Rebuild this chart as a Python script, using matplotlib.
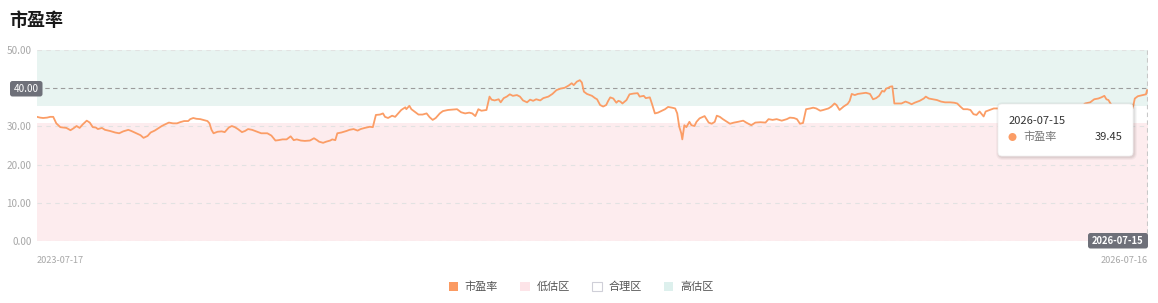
import matplotlib
matplotlib.use('Agg')
import matplotlib.pyplot as plt
import pandas as pd
from matplotlib.patches import FancyBboxPatch, Patch, Circle
from matplotlib.transforms import IdentityTransform

plt.rcParams['font.family'] = ['Noto Sans CJK SC', 'DejaVu Sans']

# ---------------- data ----------------
title = '市盈率'
start_date = '2023-07-17'
end_date = '2026-07-16'
day_offsets = [
    0, 3, 6, 10, 13, 16, 19, 23, 26, 29, 33, 36, 39, 42, 45, 49, 52, 55, 58, 60,
    64, 67, 72, 77, 81, 85, 90, 93, 98, 102, 105, 109, 112, 116, 120, 123, 126, 130, 134, 138,
    141, 145, 149, 151, 154, 157, 161, 165, 168, 170, 172, 174, 178, 182, 185, 189, 192, 195, 198, 202,
    205, 208, 212, 217, 221, 227, 231, 235, 238, 242, 246, 250, 253, 256, 260, 264, 269, 273, 276, 278,
    282, 285, 289, 291, 294, 296, 300, 305, 308, 312, 316, 319, 323, 328, 331, 334, 338, 341, 343, 346,
    350, 353, 356, 359, 363, 364, 367, 369, 373, 376, 380, 384, 387, 390, 393, 397, 400, 405, 410, 414,
    418, 422, 426, 429, 432, 435, 438, 443, 446, 448, 451, 455, 457, 460, 463, 466, 469, 473, 476, 479,
    483, 486, 489, 492, 496, 499, 504, 508, 512, 516, 520, 524, 527, 529, 532, 535, 537, 539, 542, 547,
    550, 552, 555, 558, 561, 563, 565, 568, 571, 573, 575, 577, 581, 584, 588, 592, 594, 598, 600, 604,
    606, 609, 612, 616, 619, 622, 626, 629, 631, 633, 635, 636, 638, 640, 643, 645, 648, 650, 653, 658,
    662, 665, 668, 670, 673, 676, 680, 683, 687, 691, 696, 699, 704, 708, 713, 718, 721, 725, 729, 734,
    739, 742, 746, 749, 752, 755, 758, 762, 765, 768, 772, 775, 780, 783, 786, 788, 791, 795, 799, 801,
    803, 806, 809, 814, 817, 821, 824, 827, 830, 833, 835, 837, 839, 841, 843, 845, 849, 852, 856, 859,
    862, 865, 870, 874, 876, 879, 883, 887, 891, 895, 900, 904, 907, 910, 913, 917, 920, 923, 926, 929,
    933, 935, 939, 943, 947, 955, 965, 975, 985, 995, 1005, 1015, 1025, 1030, 1033, 1038, 1042, 1046, 1049, 1052,
    1054, 1056, 1058, 1062, 1066, 1070, 1075, 1080, 1082, 1085, 1090, 1093, 1094,
]
pe_values = [
    32.5, 32.3, 32.2, 32.3, 32.5, 32.5, 30.8, 29.8, 29.7, 29.6, 29.0, 29.5, 30.1, 29.6, 30.5, 31.5, 31.0, 29.8, 29.7, 29.3,
    29.6, 29.1, 28.8, 28.4, 28.2, 28.7, 29.1, 28.8, 28.2, 27.7, 27.0, 27.5, 28.4, 28.9, 29.6, 30.1, 30.5, 31.0, 30.8, 30.8,
    31.1, 31.4, 31.4, 31.9, 32.2, 32.0, 31.9, 31.6, 31.4, 30.8, 29.1, 28.2, 28.6, 28.7, 28.5, 29.7, 30.1, 29.8, 29.3, 28.5,
    28.8, 29.3, 29.1, 28.6, 28.2, 28.2, 27.6, 26.3, 26.4, 26.6, 26.6, 27.4, 26.4, 26.6, 26.3, 26.2, 26.3, 26.9, 26.4, 26.0,
    25.7, 26.0, 26.3, 26.6, 26.4, 28.2, 28.4, 28.8, 29.1, 29.3, 28.9, 29.3, 29.6, 29.9, 29.8, 33.0, 33.1, 33.4, 32.5, 32.2,
    32.8, 32.5, 33.4, 34.3, 35.0, 34.5, 35.4, 34.5, 33.7, 33.1, 33.1, 33.4, 32.4, 31.7, 32.2, 33.4, 34.0, 34.3, 34.4, 34.5,
    33.7, 33.4, 33.6, 33.4, 32.7, 34.5, 34.1, 34.3, 37.8, 37.0, 36.8, 37.1, 36.3, 37.4, 37.8, 38.4, 38.0, 38.2, 37.8, 36.8,
    36.3, 37.0, 36.7, 37.1, 36.8, 37.4, 37.8, 38.5, 39.5, 39.9, 40.1, 40.7, 41.3, 40.8, 41.7, 42.1, 41.5, 39.1, 38.5, 38.0,
    37.4, 37.1, 35.6, 35.2, 35.6, 36.7, 37.6, 37.3, 36.2, 36.7, 36.5, 36.0, 36.9, 38.4, 38.6, 38.7, 37.8, 38.0, 37.4, 37.6,
    36.0, 33.4, 33.6, 34.1, 34.5, 35.1, 34.9, 34.7, 33.4, 29.9, 28.2, 26.6, 30.3, 29.8, 31.2, 30.3, 30.1, 31.2, 32.1, 32.7,
    31.0, 30.7, 31.2, 32.8, 32.5, 31.9, 31.2, 30.7, 31.0, 31.2, 31.5, 31.0, 30.3, 31.0, 31.1, 31.0, 31.9, 31.7, 31.9, 31.5,
    31.9, 32.3, 32.2, 31.9, 30.7, 30.9, 34.5, 34.7, 34.9, 34.7, 34.1, 34.3, 34.7, 35.2, 36.0, 35.6, 34.3, 35.2, 35.9, 36.7,
    38.5, 38.2, 38.5, 38.7, 38.8, 38.5, 37.1, 37.4, 38.0, 39.3, 39.1, 39.9, 40.1, 40.4, 40.5, 36.0, 36.0, 36.0, 36.5, 36.2,
    35.8, 36.2, 36.7, 37.3, 37.8, 37.3, 37.1, 36.9, 36.5, 36.3, 36.3, 36.2, 36.0, 35.2, 34.5, 34.5, 34.3, 33.2, 33.0, 33.9,
    32.6, 33.9, 34.3, 34.7, 34.7, 34.5, 34.0, 34.6, 34.8, 34.4, 34.9, 34.8, 35.0, 35.3, 36.0, 36.3, 37.1, 37.3, 37.6, 38.0,
    37.1, 36.9, 36.0, 34.5, 34.0, 33.8, 34.2, 34.8, 37.3, 37.9, 38.2, 38.4, 39.45,
]
zone_low_max = 31.0
zone_high_min = 35.4
y_max = 50
y_ticks = [0, 10, 20, 30, 40, 50]
legend_labels = ['市盈率', '低估区', '合理区', '高估区']
pointer_value = 40.0
tooltip_date = '2026-07-15'
tooltip_value = 39.45

# ---------------- style ----------------
W, H = 1158, 303
line_color = '#fb9d66'
low_color = '#fdecee'
high_color = '#e8f4f1'
grid_color = '#e2e2e2'
label_color = '#a8a8a8'
pointer_bg = '#6e7079'

fig = plt.figure(figsize=(W / 100, H / 100), dpi=100)
fig.patch.set_facecolor('white')
ax = fig.add_axes([37 / W, 1 - 241 / H, (1148 - 37) / W, (241 - 50) / H])

dates = pd.Timestamp(start_date) + pd.to_timedelta(day_offsets, unit='D')
x0, x1 = pd.Timestamp(start_date), pd.Timestamp(end_date)
ax.set_xlim(x0, x1)
ax.set_ylim(0, y_max)

ax.axhspan(0, zone_low_max, color=low_color, lw=0, zorder=0)
ax.axhspan(zone_high_min, y_max, color=high_color, lw=0, zorder=0)
for t in y_ticks:
    if t == pointer_value:
        continue
    ax.axhline(t, color=grid_color, lw=0.8, ls=(0, (4, 4)), zorder=1)
ax.axhline(pointer_value, color='#9c9c9c', lw=0.8, ls=(0, (4, 3)), zorder=2)
ax.axvline(pd.Timestamp(tooltip_date), color='#c8c8c8', lw=0.8, ls=(0, (4, 3)), zorder=2)

ax.plot(dates, pe_values, color=line_color, lw=1.3, zorder=3, solid_joinstyle='round')

for s in ax.spines.values():
    s.set_visible(False)
ax.set_yticks([t for t in y_ticks if t != pointer_value])
ax.set_yticklabels([f'{t:.2f}' for t in y_ticks if t != pointer_value])
ax.tick_params(axis='y', length=0, pad=4, labelsize=7.2, labelcolor=label_color)
ax.set_xticks([x0, x1])
ax.set_xticklabels([start_date, end_date])
ax.tick_params(axis='x', length=0, pad=11, labelsize=6.6, labelcolor=label_color)
xl = ax.get_xticklabels()
xl[0].set_horizontalalignment('left')
xl[1].set_horizontalalignment('right')

# ---------------- annotations (pixel coords) ----------------
idt = IdentityTransform()


def py(y):
    return H - y


fig.text(9 / W, 1 - 20 / H, title, fontsize=13, fontweight='bold', color='#1a1a1a',
         ha='left', va='center')

# y pointer label
fig.add_artist(FancyBboxPatch((10, py(96.5)), 32.5, 15.5, boxstyle='round,pad=0,rounding_size=2.5',
                              transform=idt, facecolor=pointer_bg, edgecolor='none', zorder=5))
fig.text(26.2 / W, 1 - 88.5 / H, f'{pointer_value:.2f}', fontsize=7.2, color='white',
         ha='center', va='center', zorder=6)

# x pointer label
fig.add_artist(FancyBboxPatch((1088, py(248.5)), 60, 15.5, boxstyle='round,pad=0,rounding_size=2.5',
                              transform=idt, facecolor=pointer_bg, edgecolor='none', zorder=5))
fig.text(1118 / W, 1 - 240.5 / H, tooltip_date, fontsize=6.8, color='white', fontweight='bold',
         ha='center', va='center', zorder=6)

# tooltip with soft shadow
for i, a in enumerate([0.03, 0.04, 0.05]):
    d = 3 - i
    fig.add_artist(FancyBboxPatch((998 - d + 1, py(156 + d + 1)), 135 + 2 * d, 52 + 2 * d,
                                  boxstyle=f'round,pad=0,rounding_size={4 + d}', transform=idt,
                                  facecolor='black', alpha=a, edgecolor='none', zorder=6))
fig.add_artist(FancyBboxPatch((998, py(156)), 135, 52, boxstyle='round,pad=0,rounding_size=4',
                              transform=idt, facecolor='white', edgecolor='#f0f0f0', lw=0.5, zorder=7))
fig.text(1009 / W, 1 - 121 / H, tooltip_date, fontsize=8, color='#333333', ha='left', va='center', zorder=8)
fig.add_artist(Circle((1012.5, py(137)), 4, transform=idt, facecolor=line_color, edgecolor='none', zorder=8))
fig.text(1023 / W, 1 - 137 / H, legend_labels[0], fontsize=8, color='#777777', ha='left', va='center', zorder=8)
fig.text(1123 / W, 1 - 137 / H, f'{tooltip_value:.2f}', fontsize=8, color='#333333', ha='right', va='center', zorder=8)

# legend
handles = [
    Patch(facecolor='#fb9a62', edgecolor='none'),
    Patch(facecolor='#fde4e8', edgecolor='none'),
    Patch(facecolor='white', edgecolor='#cfcfd8', lw=0.8),
    Patch(facecolor='#ddf0ed', edgecolor='none'),
]
fig.legend(handles, legend_labels, loc='center', bbox_to_anchor=(581 / W, 1 - 287 / H), ncol=4,
           frameon=False, fontsize=8, handlelength=0.85, handleheight=0.85, handletextpad=0.6,
           columnspacing=2.0, labelcolor='#555555', borderpad=0)

fig.savefig('out.png', dpi=100)
